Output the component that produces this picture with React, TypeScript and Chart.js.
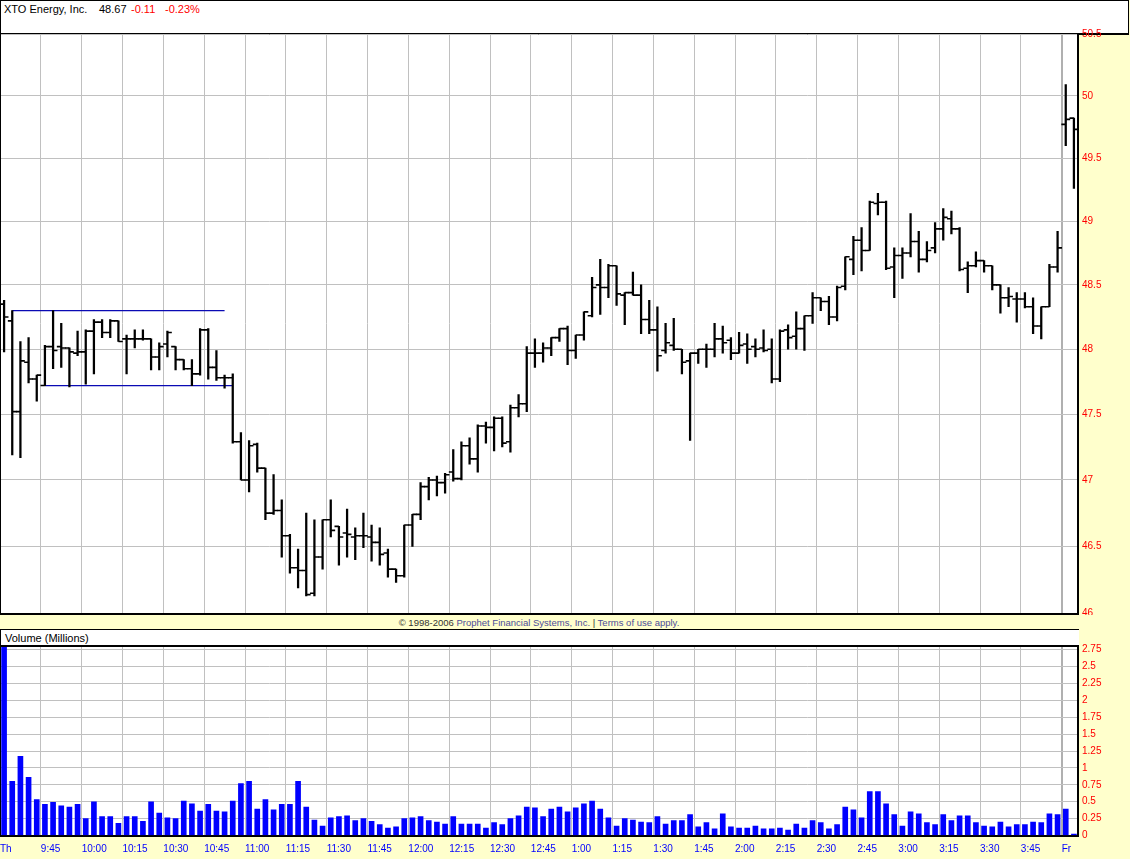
import React, { useEffect, useRef } from 'react';
import { Chart, registerables } from 'chart.js';

Chart.register(...registerables);

const FONT = '"Liberation Sans", Arial, sans-serif';

// ---- Data (3-minute bars, Thursday 9:30 .. 3:57, then Friday open) ----
const opens = [
  48.35, 48.22, 47.52, 47.90, 47.77, 47.72, 48.02, 48.02, 48.01, 47.97,
  47.98, 48.14, 48.21, 48.13, 48.22, 48.08, 48.08, 48.08, 48.08, 47.94,
  48.04, 48.02, 47.92, 47.85, 47.81, 48.15, 47.86, 47.78, 47.78, 47.29,
  47.00, 47.27, 47.09, 46.75, 46.77, 46.58, 46.34, 46.32, 46.15, 46.42,
  46.70, 46.65, 46.60, 46.57, 46.58, 46.57, 46.53, 46.45, 46.33, 46.28,
  46.66, 46.74, 46.95, 47.00, 46.98, 47.06, 47.01, 47.26, 47.16, 47.41,
  47.40, 47.47, 47.29, 47.55, 47.58, 47.97, 47.97, 48.01, 48.09, 48.16,
  47.99, 48.11, 48.26, 48.50, 48.48, 48.65, 48.42, 48.44, 48.42, 48.23,
  48.15, 47.99, 48.03, 48.00, 47.91, 47.97, 48.00, 48.00, 48.08, 48.07,
  47.97, 48.04, 48.02, 48.01, 48.00, 47.77, 48.15, 48.10, 48.16, 48.26,
  48.40, 48.37, 48.25, 48.49, 48.70, 48.85, 48.77, 49.14, 49.15, 48.64,
  48.73, 48.75, 48.84, 48.70, 48.79, 48.94, 49.02, 48.94, 48.63, 48.65,
  48.69, 48.65, 48.50, 48.40, 48.39, 48.39, 48.33, 48.18, 48.33, 48.64,
  49.77, 49.82,
];
const highs = [
  48.38, 48.30, 48.06, 48.09, 47.80, 48.03, 48.30, 48.20, 48.01, 48.14,
  48.15, 48.23, 48.23, 48.23, 48.22, 48.11, 48.15, 48.15, 48.08, 48.05,
  48.14, 48.02, 47.92, 47.92, 48.16, 48.16, 47.99, 47.80, 47.81, 47.36,
  47.30, 47.28, 47.09, 47.04, 46.85, 46.59, 46.48, 46.75, 46.70, 46.70,
  46.85, 46.65, 46.78, 46.64, 46.75, 46.66, 46.64, 46.48, 46.33, 46.66,
  46.74, 46.98, 47.02, 47.03, 47.05, 47.23, 47.29, 47.32, 47.42, 47.44,
  47.48, 47.48, 47.57, 47.65, 48.02, 48.08, 48.05, 48.09, 48.16, 48.18,
  48.11, 48.29, 48.56, 48.70, 48.66, 48.65, 48.44, 48.60, 48.50, 48.38,
  48.33, 48.20, 48.24, 48.00, 47.97, 48.00, 48.04, 48.20, 48.18, 48.09,
  48.13, 48.12, 48.08, 48.15, 48.08, 48.15, 48.19, 48.29, 48.26, 48.44,
  48.40, 48.41, 48.49, 48.72, 48.88, 48.95, 49.16, 49.22, 49.16, 48.79,
  48.79, 49.06, 48.92, 48.84, 48.99, 49.10, 49.08, 48.95, 48.68, 48.76,
  48.69, 48.65, 48.50, 48.48, 48.44, 48.44, 48.40, 48.33, 48.66, 48.92,
  50.09, 49.82,
];
const lows = [
  47.98, 47.19, 47.17, 47.74, 47.60, 47.72, 47.85, 47.86, 47.71, 47.95,
  47.73, 47.81, 48.09, 48.09, 48.06, 47.81, 48.01, 48.07, 47.84, 47.84,
  47.94, 47.84, 47.84, 47.72, 47.80, 47.77, 47.76, 47.70, 47.28, 47.00,
  46.91, 47.06, 46.70, 46.74, 46.42, 46.30, 46.19, 46.13, 46.13, 46.33,
  46.57, 46.36, 46.42, 46.40, 46.49, 46.39, 46.36, 46.27, 46.23, 46.27,
  46.50, 46.70, 46.85, 46.88, 46.90, 46.99, 47.00, 47.12, 47.06, 47.28,
  47.22, 47.25, 47.21, 47.48, 47.52, 47.86, 47.90, 47.95, 48.06, 47.88,
  47.93, 48.07, 48.25, 48.27, 48.40, 48.34, 48.19, 48.42, 48.12, 48.12,
  47.83, 47.97, 47.99, 47.81, 47.30, 47.89, 47.86, 47.94, 47.97, 47.92,
  47.97, 47.89, 47.94, 47.98, 47.74, 47.75, 48.00, 48.00, 47.99, 48.20,
  48.30, 48.19, 48.22, 48.46, 48.58, 48.61, 48.77, 49.05, 48.62, 48.40,
  48.55, 48.72, 48.60, 48.68, 48.75, 48.85, 48.90, 48.61, 48.44, 48.64,
  48.60, 48.46, 48.28, 48.33, 48.21, 48.32, 48.12, 48.08, 48.33, 48.60,
  49.60, 49.26,
];
const closes = [
  48.25, 47.52, 47.91, 47.77, 47.80, 48.02, 47.99, 48.01, 47.98, 47.98,
  48.14, 48.21, 48.13, 48.22, 48.06, 48.08, 48.08, 48.08, 47.94, 48.02,
  48.13, 47.92, 47.85, 47.81, 48.15, 47.86, 47.78, 47.78, 47.29, 47.00,
  47.26, 47.09, 46.75, 46.77, 46.58, 46.34, 46.32, 46.14, 46.42, 46.70,
  46.62, 46.57, 46.59, 46.58, 46.58, 46.53, 46.44, 46.33, 46.28, 46.66,
  46.74, 46.95, 47.00, 46.98, 47.04, 47.01, 47.26, 47.16, 47.41, 47.40,
  47.47, 47.28, 47.55, 47.58, 47.97, 47.97, 48.01, 48.09, 48.16, 47.99,
  48.11, 48.29, 48.48, 48.48, 48.65, 48.43, 48.44, 48.42, 48.23, 48.15,
  47.95, 48.05, 48.00, 47.90, 47.97, 48.00, 48.00, 48.08, 48.05, 47.97,
  48.03, 48.00, 48.00, 47.99, 47.77, 48.14, 48.09, 48.16, 48.26, 48.40,
  48.37, 48.25, 48.48, 48.72, 48.85, 48.77, 49.15, 49.15, 48.63, 48.73,
  48.75, 48.84, 48.70, 48.77, 48.94, 49.03, 48.94, 48.62, 48.65, 48.69,
  48.65, 48.50, 48.40, 48.41, 48.39, 48.33, 48.18, 48.33, 48.64, 48.79,
  49.81, 49.73,
];
const volumes = [
  2.95, 0.80, 1.17, 0.86, 0.53, 0.46, 0.49, 0.44, 0.42, 0.46,
  0.25, 0.50, 0.28, 0.28, 0.18, 0.28, 0.28, 0.21, 0.50, 0.33,
  0.26, 0.25, 0.51, 0.47, 0.36, 0.46, 0.36, 0.35, 0.51, 0.77,
  0.80, 0.39, 0.53, 0.38, 0.46, 0.46, 0.80, 0.42, 0.23, 0.14,
  0.26, 0.28, 0.29, 0.22, 0.25, 0.21, 0.16, 0.11, 0.13, 0.25,
  0.26, 0.28, 0.22, 0.20, 0.17, 0.28, 0.17, 0.17, 0.17, 0.11,
  0.19, 0.16, 0.25, 0.29, 0.42, 0.41, 0.28, 0.39, 0.42, 0.35,
  0.41, 0.47, 0.51, 0.39, 0.26, 0.14, 0.25, 0.23, 0.20, 0.19,
  0.28, 0.17, 0.22, 0.22, 0.31, 0.13, 0.19, 0.10, 0.32, 0.13,
  0.11, 0.11, 0.14, 0.10, 0.10, 0.11, 0.08, 0.17, 0.11, 0.22,
  0.19, 0.10, 0.16, 0.42, 0.38, 0.26, 0.65, 0.65, 0.47, 0.31,
  0.14, 0.35, 0.32, 0.19, 0.16, 0.31, 0.22, 0.29, 0.29, 0.19,
  0.14, 0.13, 0.20, 0.13, 0.16, 0.16, 0.20, 0.19, 0.32, 0.31,
  0.39, 0.02,
];

// opening-range lines: [startBar, endBar, price]
const rangeHigh = [1, 27, 48.30];
const rangeLow = [5, 28, 47.72];

const axisLabels = [
  'Th', '9:45', '10:00', '10:15', '10:30', '10:45', '11:00', '11:15', '11:30',
  '11:45', '12:00', '12:15', '12:30', '12:45', '1:00', '1:15', '1:30', '1:45',
  '2:00', '2:15', '2:30', '2:45', '3:00', '3:15', '3:30', '3:45', 'Fr',
];
const BARS_PER_GRID = 5;
const priceTicks = [46, 46.5, 47, 47.5, 48, 48.5, 49, 49.5, 50, 50.5];
const volumeTicks = [0, 0.25, 0.5, 0.75, 1, 1.25, 1.5, 1.75, 2, 2.25, 2.5, 2.75];

const TICK_OFF = 0.27;

export default function App() {
  const priceRef = useRef<HTMLCanvasElement>(null);
  const volRef = useRef<HTMLCanvasElement>(null);

  useEffect(() => {
    document.body.style.margin = '0';
    const tickVals = axisLabels.map((_, k) => k * BARS_PER_GRID - 0.5);
    const sepValue = tickVals[tickVals.length - 1];
    const gridColor = (ctx: any) =>
      ctx.tick && ctx.tick.value === sepValue ? '#b0b0b0' : '#c0c0c0';
    const gridWidth = (ctx: any) =>
      ctx.tick && ctx.tick.value === sepValue ? 2 : 1;
    const n = opens.length;

    const xScale = (height: number, showLabels: boolean) => ({
      type: 'linear',
      min: -0.5,
      max: n - 0.5,
      offset: false,
      afterBuildTicks: (s: any) => {
        s.ticks = tickVals.map((v) => ({ value: v }));
      },
      afterFit: (s: any) => {
        s.height = height;
        s.paddingLeft = 0;
        s.paddingRight = 0;
        s.paddingTop = 0;
        s.paddingBottom = 0;
      },
      ticks: {
        display: showLabels,
        autoSkip: false,
        maxRotation: 0,
        minRotation: 0,
        align: 'start',
        padding: 8,
        color: '#0000ff',
        font: { family: FONT, size: 10 },
        callback: (_v: any, i: number) => axisLabels[i],
      },
      grid: { color: gridColor, lineWidth: gridWidth, drawTicks: false, offset: false },
      border: { display: true, color: '#000', width: 2 },
    });

    const yRight = (extra: any, ticks: number[]) => ({
      position: 'right',
      ...extra,
      afterBuildTicks: (s: any) => {
        s.ticks = ticks.map((v) => ({ value: v }));
      },
      afterFit: (s: any) => {
        s.width = 52;
        s.paddingLeft = 0;
        s.paddingRight = 0;
        s.paddingTop = 0;
        s.paddingBottom = 0;
      },
      ticks: {
        color: '#ff0000',
        padding: 4,
        font: { family: FONT, size: 10 },
        callback: (v: any) => String(Number(v)),
      },
      grid: { color: '#c0c0c0', lineWidth: 1, drawTicks: false },
      border: { display: true, color: '#000', width: 2 },
    });

    const priceChart = new Chart(priceRef.current as HTMLCanvasElement, {
      type: 'bar',
      data: {
        datasets: [
          {
            type: 'bar',
            data: highs.map((h, i) => ({ x: i, y: [lows[i], h] })) as any,
            backgroundColor: '#000',
            borderWidth: 0,
            barThickness: 1.6,
            grouped: false,
          } as any,
          {
            type: 'scatter',
            data: opens.map((o, i) => ({ x: i - TICK_OFF, y: o })),
            pointStyle: 'line',
            pointRadius: 2.2,
            borderColor: '#000',
            borderWidth: 1.6,
          } as any,
          {
            type: 'scatter',
            data: closes.map((c, i) => ({ x: i + TICK_OFF, y: c })),
            pointStyle: 'line',
            pointRadius: 2.2,
            borderColor: '#000',
            borderWidth: 1.6,
          } as any,
          {
            type: 'line',
            data: [
              { x: rangeHigh[0], y: rangeHigh[2] },
              { x: rangeHigh[1], y: rangeHigh[2] },
            ],
            borderColor: '#0a0ab4',
            borderWidth: 1.3,
            pointRadius: 0,
          } as any,
          {
            type: 'line',
            data: [
              { x: rangeLow[0], y: rangeLow[2] },
              { x: rangeLow[1], y: rangeLow[2] },
            ],
            borderColor: '#0a0ab4',
            borderWidth: 1.3,
            pointRadius: 0,
          } as any,
        ],
      },
      options: {
        animation: false,
        responsive: false,
        maintainAspectRatio: false,
        events: [],
        layout: { autoPadding: false, padding: { top: 14, left: 0, right: 0, bottom: 0 } },
        plugins: { legend: { display: false }, tooltip: { enabled: false } },
        scales: {
          x: xScale(1.5, false) as any,
          y: yRight({ type: 'logarithmic', min: 46, max: 50.5 }, priceTicks) as any,
        },
      },
    });

    const volChart = new Chart(volRef.current as HTMLCanvasElement, {
      type: 'bar',
      data: {
        datasets: [
          {
            data: volumes.map((v, i) => ({ x: i, y: v })) as any,
            backgroundColor: '#0000ff',
            borderWidth: 0,
            barThickness: 5,
          },
        ],
      },
      options: {
        animation: false,
        responsive: false,
        maintainAspectRatio: false,
        events: [],
        layout: { autoPadding: false, padding: { top: 7, left: 0, right: 0, bottom: 0 } },
        plugins: { legend: { display: false }, tooltip: { enabled: false } },
        scales: {
          x: xScale(23.5, true) as any,
          y: yRight({ type: 'linear', min: 0, max: 2.79 }, volumeTicks) as any,
        },
      },
    });

    return () => {
      priceChart.destroy();
      volChart.destroy();
    };
  }, []);

  const abs = (s: React.CSSProperties): React.CSSProperties => ({ position: 'absolute', ...s });
  const hdr = { fontSize: 11, lineHeight: '13px' };

  return (
    <div
      style={{
        position: 'relative',
        width: 1130,
        height: 859,
        background: '#ffffcc',
        overflow: 'hidden',
        fontFamily: FONT,
      }}
    >
      {/* header */}
      <div
        style={abs({
          left: 0,
          top: 0,
          width: 1129,
          height: 35,
          boxSizing: 'border-box',
          border: '1px solid #000',
          borderBottom: '2px solid #000',
          background: '#fff',
        })}
      />
      <div style={abs({ left: 4, top: 3, ...hdr, color: '#000' })}>XTO Energy, Inc.</div>
      <div style={abs({ left: 99, top: 3, ...hdr, color: '#000' })}>48.67</div>
      <div style={abs({ left: 131, top: 3, ...hdr, color: '#ff0000' })}>-0.11</div>
      <div style={abs({ left: 165, top: 3, ...hdr, color: '#ff0000' })}>-0.23%</div>

      {/* price plot background */}
      <div style={abs({ left: 0, top: 35, width: 1078, height: 579, background: '#fff' })} />
      <canvas ref={priceRef} width={1130} height={595} style={abs({ left: 0, top: 20, width: 1130, height: 595 })} />
      <div style={abs({ left: 0, top: 34, width: 1, height: 581, background: '#000' })} />

      {/* copyright strip */}
      <div
        style={abs({
          left: 0,
          top: 617,
          width: 1078,
          textAlign: 'center',
          fontSize: 9.5,
          lineHeight: '11px',
          color: '#333',
          whiteSpace: 'nowrap',
        })}
      >
        © 1998-2006 <span style={{ color: '#4d4d99' }}>Prophet Financial Systems, Inc.</span> |{' '}
        <span style={{ color: '#4d4d99' }}>Terms of use apply.</span>
      </div>

      {/* volume header */}
      <div
        style={abs({
          left: 0,
          top: 629,
          width: 1079,
          height: 18,
          boxSizing: 'border-box',
          borderTop: '1px solid #000',
          borderLeft: '1px solid #000',
          borderBottom: '2px solid #000',
          background: '#fff',
        })}
      />
      <div style={abs({ left: 5, top: 632, fontSize: 11, lineHeight: '13px', color: '#000' })}>
        Volume (Millions)
      </div>

      {/* volume plot background */}
      <div style={abs({ left: 0, top: 647, width: 1078, height: 189, background: '#fff' })} />
      <canvas ref={volRef} width={1130} height={219} style={abs({ left: 0, top: 640, width: 1130, height: 219 })} />
      <div style={abs({ left: 0, top: 646, width: 1, height: 191, background: '#000' })} />
    </div>
  );
}
